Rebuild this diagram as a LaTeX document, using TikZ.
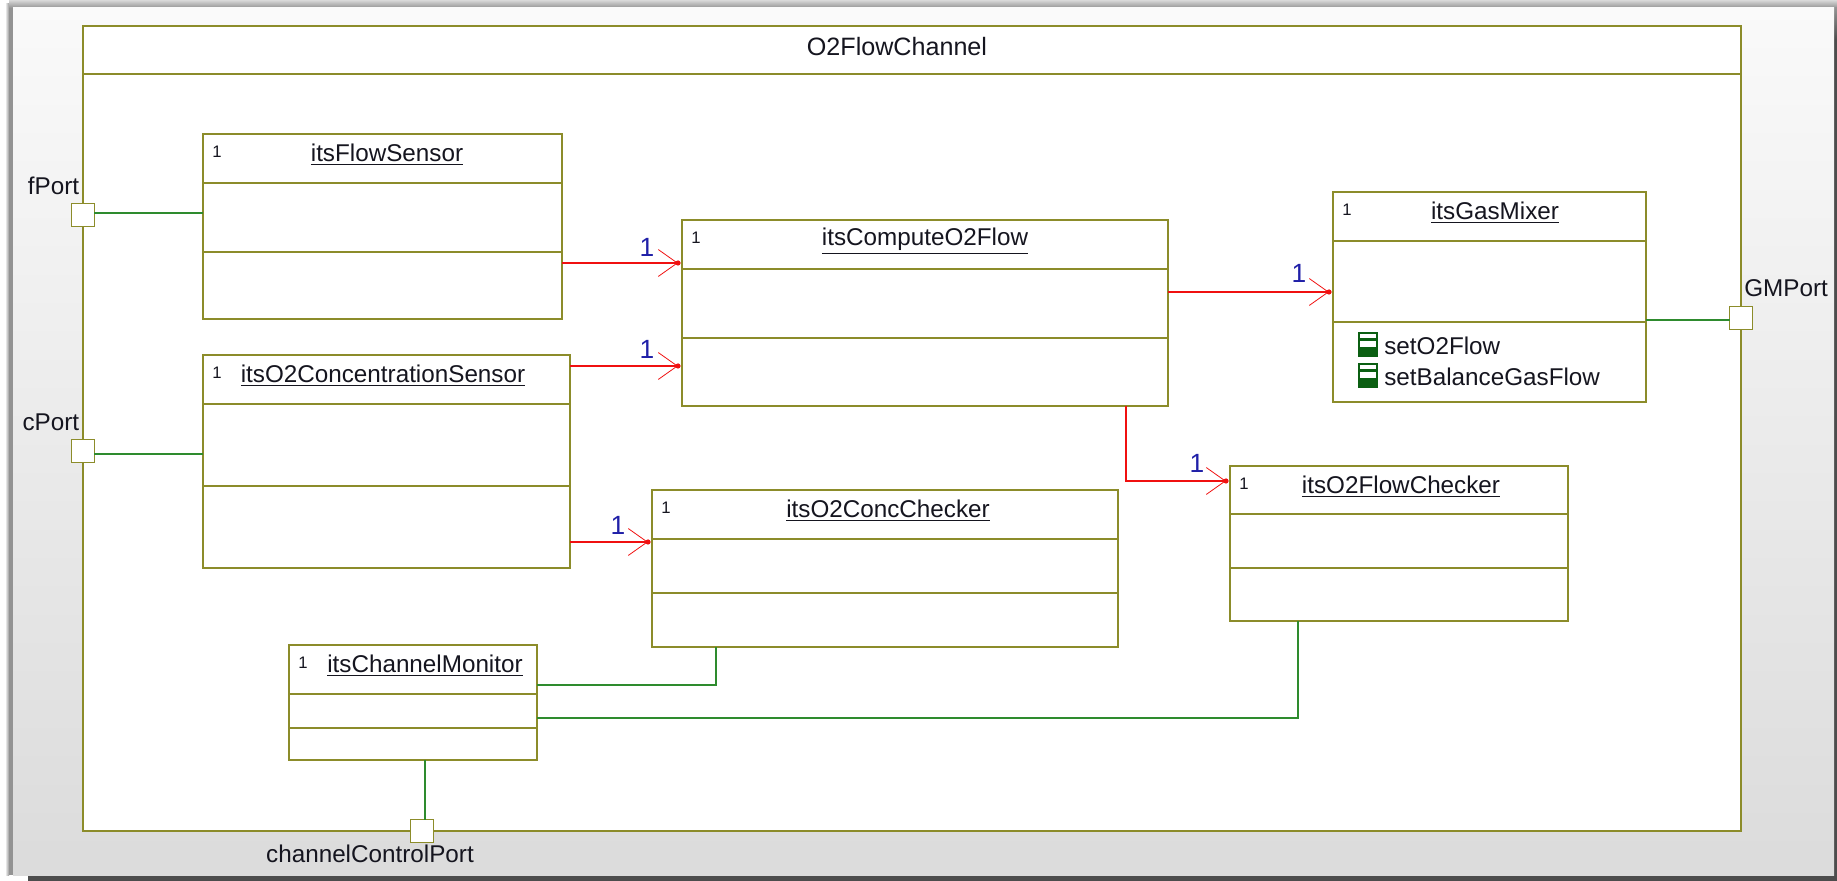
\documentclass[tikz,border=0pt]{standalone}
\usepackage{fontspec}
\setmainfont{Liberation Sans}
\usetikzlibrary{calc,arrows.meta,fit}

\definecolor{frameolive}{HTML}{8C8C2A}
\definecolor{linkgreen}{HTML}{2E8B2E}
\definecolor{linkred}{HTML}{F01010}
\definecolor{multblue}{HTML}{2020A8}
\definecolor{opgreen}{HTML}{0B5F12}
\definecolor{textdark}{HTML}{15151F}

\tikzset{
  frameline/.style={draw=frameolive,line width=1pt},
  classbox/.style={frameline,fill=white,inner sep=0pt,outer sep=0pt},
  portbox/.style={frameline,fill=white,minimum size=13pt,inner sep=0pt,outer sep=0pt},
  uml/.style={text=textdark,inner sep=0pt,font=\fontsize{13.8}{16}\selectfont},
  smallone/.style={text=textdark,inner sep=0pt,font=\fontsize{9.5}{11}\selectfont},
  mult/.style={text=multblue,inner sep=0pt,font=\fontsize{15}{17}\selectfont},
  portlink/.style={draw=linkgreen,line width=.85pt},
  assoc/.style={draw=linkred,line width=.85pt,shorten >=2.3pt,
    -{Straight Barb[length=10.8pt,width=15.3pt,line width=.45pt]}}
}

\begin{document}
\begin{tikzpicture}[x=0.02cm,y=-0.02cm]
  \useasboundingbox (0,0) rectangle (1837,881);
  % window with its shadow
  \fill[white] (0,0) rectangle (1837,881);
  \shade[left color=white,right color=gray!80] (5,4) rectangle (9,875);
  \fill[gray!85] (9,4) rectangle (13,875);
  \shade[top color=gray!30,bottom color=gray!85] (9,0) rectangle (1837,8);
  \shade[top color=gray!85,bottom color=black!70] (1834,8) rectangle (1837,40);
  \fill[black!70] (1834,40) rectangle (1837,881);
  \fill[black!70] (28,875) rectangle (1837,881);
  \shade[top color=black!2,bottom color=black!14] (13,8) rectangle (1834,875);

  % outer part
  \node[classbox,fit={(83,26)(1741,831)}] (frame) {};
  \draw[frameline] (83,74) -- (1741,74);
  \node[uml,font=\fontsize{14.3}{16}\selectfont] (title) at (897,47) {O2FlowChannel};

  % parts: name/left/top/right/bottom/first divider/second divider/title x/title
  \foreach \nm/\xa/\ya/\xb/\yb/\ha/\hb/\tx/\lbl in {
    fsens/203/134/562/319/183/252/387/itsFlowSensor,
    csens/203/355/570/568/404/486/383/itsO2ConcentrationSensor,
    comp/682/220/1168/406/269/338/925/itsComputeO2Flow,
    gmix/1333/192/1646/402/241/322/1495/itsGasMixer,
    fchk/1230/466/1568/621/514/568/1401/itsO2FlowChecker,
    cchk/652/490/1118/647/539/593/888/itsO2ConcChecker,
    cmon/289/645/537/760/694/728/425/itsChannelMonitor}{
    \node[classbox,fit={(\xa,\ya)(\xb,\yb)}] (\nm) {};
    \draw[frameline] (\xa,\ha) -- (\xb,\ha);
    \draw[frameline] (\xa,\hb) -- (\xb,\hb);
    \node[smallone] (\nm one) at ($(\xa,\ya)+(14,18)$) {1};
    \node[uml] (\nm title) at (\tx,{\ya+21}) {\underline{\lbl}};
  }

  % operations of the gas mixer
  \foreach \nm/\yc/\lbl in {opa/332/setO2Flow,opb/363/setBalanceGasFlow}{
    \fill[opgreen] (1358,\yc) rectangle (1378,{\yc+25});
    \fill[white] (1360,{\yc+2}) rectangle (1376,{\yc+6});
    \fill[white] (1360,{\yc+9}) rectangle (1376,{\yc+15});
    \node[uml,anchor=west] (\nm) at (1384,{\yc+14}) {\lbl};
  }

  % ports
  \node[portbox] (fport) at (83,215) {};
  \node[portbox] (cport) at (83,451) {};
  \node[portbox] (gmport) at (1741,318) {};
  \node[portbox] (ctlport) at (422,831) {};
  \node[uml,anchor=east] (fportlabel) at (79.5,186) {fPort};
  \node[uml,anchor=east] (cportlabel) at (79.5,422) {cPort};
  \node[uml,anchor=west] (gmportlabel) at (1744,288) {GMPort};
  \node[uml] (ctlportlabel) at (370,854) {channelControlPort};

  % green links
  \draw[portlink] (fport.east |- 0,213) -- (fsens.west |- 0,213);
  \draw[portlink] (cport.east |- 0,454) -- (csens.west |- 0,454);
  \draw[portlink] (gmix.east |- 0,320) -- (gmport.west |- 0,320);
  \draw[portlink] (cmon.south -| 425,0) -- (ctlport.north -| 425,0);
  \draw[portlink] (cmon.east |- 0,685) -| (cchk.south -| 716,0);
  \draw[portlink] (cmon.east |- 0,718) -| (fchk.south -| 1298,0);

  % red links
  \draw[assoc] (fsens.east |- 0,263) -- (comp.west |- 0,263);
  \draw[assoc] (csens.east |- 0,366) -- (comp.west |- 0,366);
  \draw[assoc] (csens.east |- 0,542) -- (cchk.west |- 0,542);
  \draw[assoc] (comp.east |- 0,292) -- (gmix.west |- 0,292);
  \draw[assoc] (comp.south -| 1126,0) |- (fchk.west |- 0,481);
  \foreach \nm/\yc in {comp/263,comp/366,cchk/542,gmix/292,fchk/481}
    \fill[linkred] ($(\nm.west |- 0,\yc)+(-4,0)$) circle (2.6);
  \node[mult] (multa) at (647,247) {1};
  \node[mult] (multb) at (647,349) {1};
  \node[mult] (multc) at (618,525) {1};
  \node[mult] (multd) at (1299,273) {1};
  \node[mult] (multe) at (1197,463) {1};
\end{tikzpicture}
\end{document}
